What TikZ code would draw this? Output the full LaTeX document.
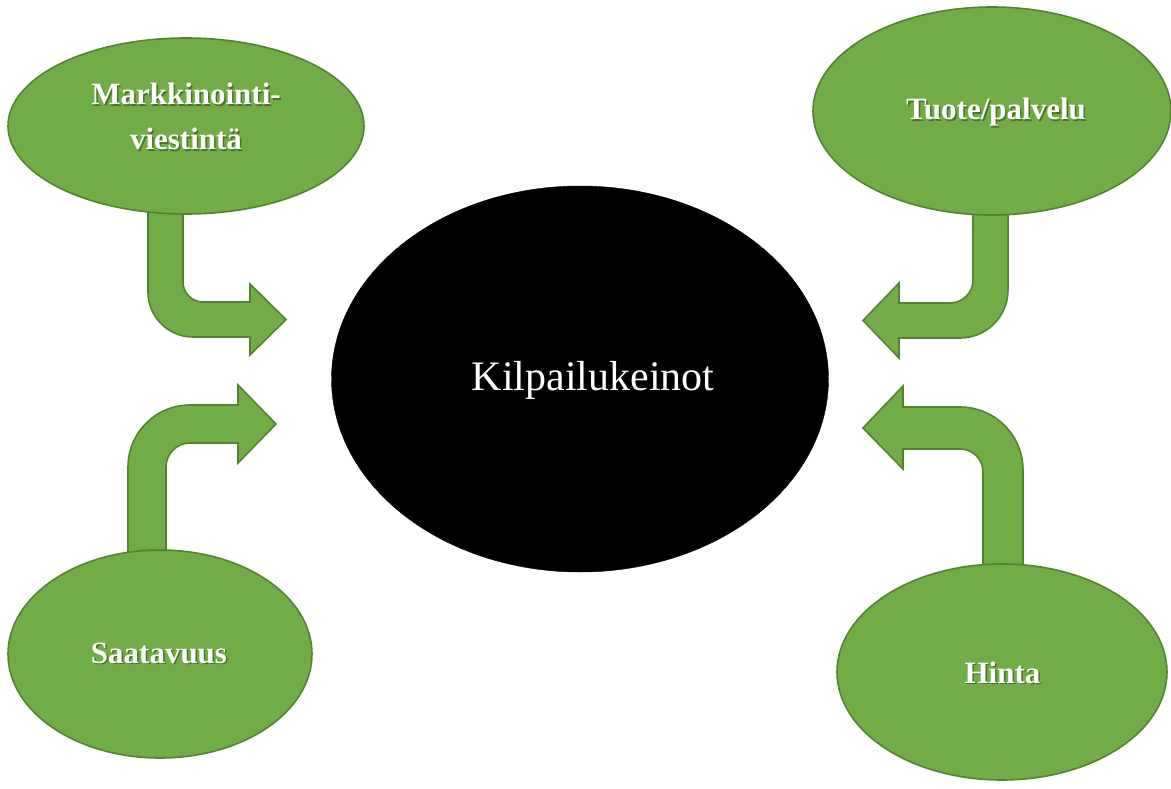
\documentclass[tikz,border=0pt]{standalone}
\usepackage{fontspec}
\setmainfont{Liberation Serif}
\usetikzlibrary{shapes.geometric}
\definecolor{gfill}{HTML}{70AD47}
\definecolor{gline}{HTML}{548235}
\tikzset{
  bubble/.style={ellipse, draw=gline, fill=gfill, line width=1.6pt, inner sep=0pt},
  bentarrow/.style={draw=gline, fill=gfill, line width=1.6pt, line join=miter},
  lbl/.style={text=white, font=\fontsize{31}{36}\selectfont\bfseries, inner sep=0pt, anchor=base},
  lblshadow/.style={text=black, opacity=0.35, font=\fontsize{31}{36}\selectfont\bfseries, inner sep=0pt, anchor=base},
}
\begin{document}
\begin{tikzpicture}[x=1pt,y=-1pt]
\useasboundingbox (0,0) rectangle (1171,789);

% bent arrows
\draw[bentarrow] (148,205) -- (148,292) .. controls (148,316.8) and (168.2,337) .. (193,337)
  -- (250,337) -- (250,355) -- (286,319.5) -- (250,284) -- (250,302) -- (203,302)
  .. controls (192,302) and (183,293) .. (183,282) -- (183,205) -- cycle;
\draw[bentarrow] (128,560) -- (128,467) .. controls (128,432.8) and (155.8,405) .. (190,405)
  -- (238,405) -- (238,385) -- (276,424) -- (238,463) -- (238,443) -- (190,443)
  .. controls (176.8,443) and (166,453.8) .. (166,467) -- (166,560) -- cycle;
\draw[bentarrow] (973,205) -- (973,280) .. controls (973,292.7) and (962.7,303) .. (950,303)
  -- (899,303) -- (899,283) -- (863,320.5) -- (899,358) -- (899,338) -- (960,338)
  .. controls (986.5,338) and (1008,316.5) .. (1008,290) -- (1008,205) -- cycle;
\draw[bentarrow] (983,570) -- (983,472) .. controls (983,459.3) and (972.7,449) .. (960,449)
  -- (903,449) -- (903,469) -- (863,428) -- (903,386) -- (903,407) -- (960,407)
  .. controls (994.8,407) and (1023,435.2) .. (1023,470) -- (1023,570) -- cycle;

% ellipses
\node[bubble, minimum width=356pt, minimum height=176pt] (mark) at (186,126) {};
\node[bubble, minimum width=358pt, minimum height=208pt] (tuote) at (992,111) {};
\node[bubble, minimum width=304pt, minimum height=208pt] (saat) at (160,654) {};
\node[bubble, minimum width=330pt, minimum height=216pt] (hinta) at (1002,672) {};
\node[ellipse, fill=black, draw=black, minimum width=497pt, minimum height=386pt, inner sep=0pt] (kilp) at (580,379) {};

% labels
\node[lblshadow] (markAs) at (187.5,106.5) {Markkinointi-};
\node[lbl] (markA) at (186,105) {Markkinointi-};
\node[lblshadow] (markBs) at (187.5,151.5) {viestintä};
\node[lbl] (markB) at (186,150) {viestintä};
\node[lblshadow] (tuoteLs) at (997.5,121.5) {Tuote/palvelu};
\node[lbl] (tuoteL) at (996,120) {Tuote/palvelu};
\node[lblshadow] (saatLs) at (160.5,664.5) {Saatavuus};
\node[lbl] (saatL) at (159,663) {Saatavuus};
\node[lblshadow] (hintaLs) at (1004,684.5) {Hinta};
\node[lbl] (hintaL) at (1002.5,683) {Hinta};
\node[text=white, font=\fontsize{42}{48}\selectfont, inner sep=0pt, anchor=base] (kilpL) at (593,390) {Kilpailukeinot};
\end{tikzpicture}
\end{document}
